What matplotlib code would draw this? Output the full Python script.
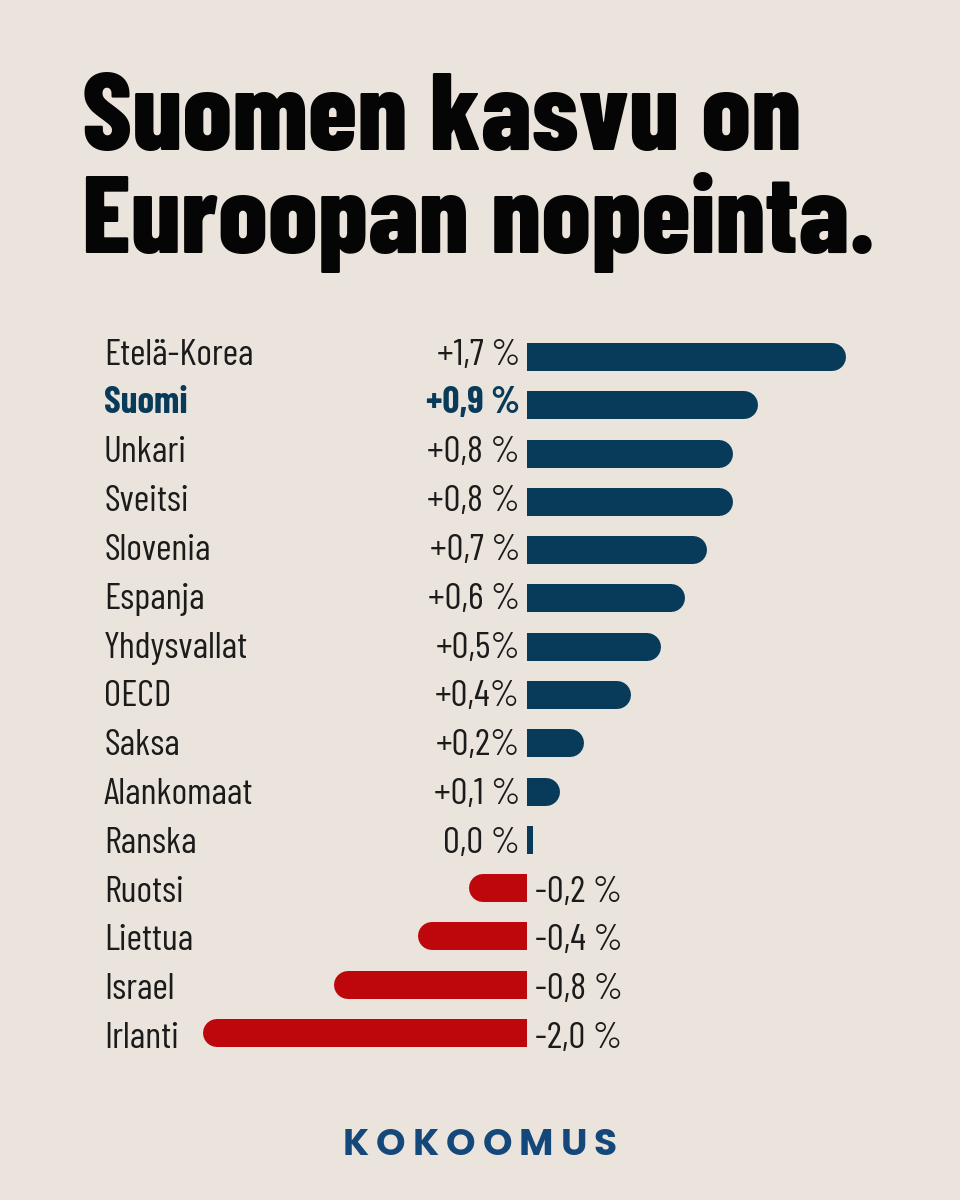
import matplotlib
matplotlib.use("Agg")
import matplotlib.pyplot as plt
import matplotlib.transforms as mtransforms

TITLE_FONT = ['Barlow Condensed ExtraBold', 'Barlow Condensed', 'Roboto Condensed',
              'Oswald', 'Asap Condensed', 'DejaVu Sans']
LABEL_FONT = ['Barlow Condensed', 'Roboto Condensed', 'Oswald', 'Asap Condensed', 'DejaVu Sans']
LOGO_FONT = ['Poppins', 'Lato', 'DejaVu Sans']
plt.rcParams['font.family'] = LABEL_FONT

# data
countries = ['Etelä-Korea', 'Suomi', 'Unkari', 'Sveitsi', 'Slovenia', 'Espanja',
             'Yhdysvallat', 'OECD', 'Saksa', 'Alankomaat', 'Ranska', 'Ruotsi',
             'Liettua', 'Israel', 'Irlanti']
growth = [1.7, 0.9, 0.8, 0.8, 0.7, 0.6, 0.5, 0.4, 0.2, 0.1, 0.0, -0.2, -0.4, -0.8, -2.0]
value_labels = ['+1,7 %', '+0,9 %', '+0,8 %', '+0,8 %', '+0,7 %', '+0,6 %', '+0,5%',
                '+0,4%', '+0,2%', '+0,1 %', '0,0 %', '-0,2 %', '-0,4 %', '-0,8 %', '-2,0 %']
# bar lengths as drawn in the graphic (the artwork is not to linear scale)
bar_len = [1.24, 0.90, 0.80, 0.80, 0.70, 0.615, 0.52, 0.405, 0.22, 0.13, 0.025,
           -0.225, -0.425, -0.75, -1.26]
highlight = 'Suomi'

BG = '#ebe4dc'
NAVY = '#083a5a'
RED = '#bd070c'
INK = '#1b1b1b'
LOGO = '#15487a'

fig = plt.figure(figsize=(9.6, 12), dpi=100, facecolor=BG)

# chart area: zero line at x=527px, 257px per unit
px_per_unit = 257.0
ax_left_px, ax_right_px = 100, 900
x_zero_px = 527
top_px, bottom_px = 333.0, 1057.0
ax = fig.add_axes([ax_left_px / 960, 1 - bottom_px / 1200,
                   (ax_right_px - ax_left_px) / 960, (bottom_px - top_px) / 1200])
ax.set_facecolor(BG)
ax.set_xlim(-(x_zero_px - ax_left_px) / px_per_unit, (ax_right_px - x_zero_px) / px_per_unit)
ax.set_ylim(len(countries) - 0.5, -0.5)
ax.axis('off')

bar_px = 28
row_px = (bottom_px - top_px) / len(countries)
bar_h = bar_px / row_px
r = (bar_px / 2) / px_per_unit
lw_pt = bar_px * 72 / 100

trans_names = mtransforms.blended_transform_factory(ax.transAxes, ax.transData)
fs = 27

for i, (name, g, lab, L) in enumerate(zip(countries, growth, value_labels, bar_len)):
    color = NAVY if g >= 0 else RED
    sign = 1 if L >= 0 else -1
    if abs(L) > 2 * r:
        # flat at the zero line, rounded at the outer end
        inner = L - sign * r
        ax.barh(i, inner, height=bar_h, color=color, linewidth=0)
        ax.plot([sign * r, inner], [i, i], color=color, lw=lw_pt,
                solid_capstyle='round')
    else:
        ax.barh(i, L, height=bar_h, color=color, linewidth=0)

    # text rows sit a touch lower than the bars towards the bottom
    base = i + (7.5 + 0.55 * i) / row_px
    bold = name == highlight
    txt_color = NAVY if bold else INK
    weight = 'bold' if bold else 'normal'
    ax.text(0.005, base, name, transform=trans_names, fontsize=fs,
            color=txt_color, fontweight=weight, va='baseline', ha='left')
    if g >= 0:
        ax.text(-7 / px_per_unit, base, lab, fontsize=fs, color=txt_color,
                fontweight=weight, va='baseline', ha='right')
    else:
        ax.text(8 / px_per_unit, base, lab, fontsize=fs, color=txt_color,
                fontweight=weight, va='baseline', ha='left')

# title
for line, base_px in [('Suomen kasvu on', 150), ('Euroopan nopeinta.', 253)]:
    fig.text(82 / 960, 1 - base_px / 1200, line, fontsize=79.5, fontweight=800,
             family=TITLE_FONT, color='#050505', va='baseline', ha='left')

# logo, letter-spaced to span about 274 px
logo = 'KOKOOMUS'
renderer = fig.canvas.get_renderer()
parts = [fig.text(0, 1 - 1155 / 1200, ch, fontsize=27, fontweight='bold',
                  family=LOGO_FONT, color=LOGO, va='baseline', ha='left') for ch in logo]
widths = [t.get_window_extent(renderer).width for t in parts]
tracking = max((274 - sum(widths)) / (len(parts) - 1), 0)
x = 480 - (sum(widths) + tracking * (len(parts) - 1)) / 2
for t, w in zip(parts, widths):
    t.set_x(x / 960)
    x += w + tracking

fig.savefig('out.png', dpi=100, facecolor=BG)
